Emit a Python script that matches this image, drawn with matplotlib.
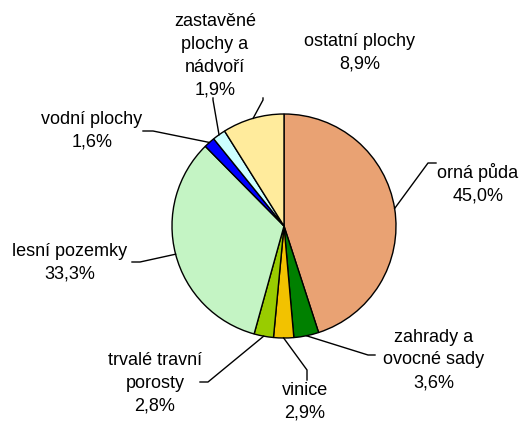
import numpy as np
import matplotlib
matplotlib.use("Agg")
import matplotlib.pyplot as plt

plt.rcParams['font.family'] = ['Liberation Sans', 'DejaVu Sans']

# land use shares (%)
labels = ["orná půda", "zahrady a\novocné sady", "vinice", "trvalé travní\nporosty",
          "lesní pozemky", "vodní plochy", "zastavěné\nplochy a\nnádvoří", "ostatní plochy"]
values = [45.0, 3.6, 2.9, 2.8, 33.3, 1.6, 1.9, 8.9]
colors = ["#E9A273", "#008000", "#F2C200", "#99CC00", "#C4F4C4", "#0000FF", "#CCFFFF", "#FFEB9C"]

# label placement in pixels (text centre), and leader line end/bend points
text_px = [(478, 184), (434, 360), (305, 402), (155, 383),
           (70, 263), (92, 131), (215, 56), (360, 53)]
leader_px = [
    [(428, 163), (436, 163)],
    [(368, 355), (375, 355)],
    [(307, 370), (307, 380)],
    [(208, 382), (200, 382)],
    [(140, 262), (132, 262)],
    [(153, 131), (143, 131)],
    [(213, 100), (213, 98)],
    [(263, 100), (263, 98)],
]

W, H = 522, 423
cx, cy, R = 284, 226, 112


def to_data(p):
    return ((p[0] - cx) / R, (cy - p[1]) / R)


fig = plt.figure(figsize=(W / 100, H / 100), dpi=100)
ax = fig.add_axes([0, 0, 1, 1])

wedges, _ = ax.pie(values, colors=colors, startangle=90, counterclock=False,
                   radius=1, center=(0, 0), frame=True,
                   wedgeprops=dict(edgecolor="black", linewidth=1.0))
ax.set_xlim(-cx / R, (W - cx) / R)
ax.set_ylim(-(H - cy) / R, cy / R)
ax.set_aspect('equal')
ax.axis('off')

for i, w in enumerate(wedges):
    # leader line starts at the wedge's mid-angle on the rim
    ang = np.deg2rad((w.theta1 + w.theta2) / 2)
    start = (np.cos(ang), np.sin(ang))
    pts = [start] + [to_data(p) for p in leader_px[i]]
    xs, ys = zip(*pts)
    ax.plot(xs, ys, color="black", lw=1.0, zorder=5)
    tx, ty = to_data(text_px[i])
    ax.text(tx, ty, f"{labels[i]}\n{values[i]:.1f}%".replace(".", ","),
            ha="center", va="center", fontsize=13, linespacing=1.45)

fig.savefig("out.png", dpi=100)
